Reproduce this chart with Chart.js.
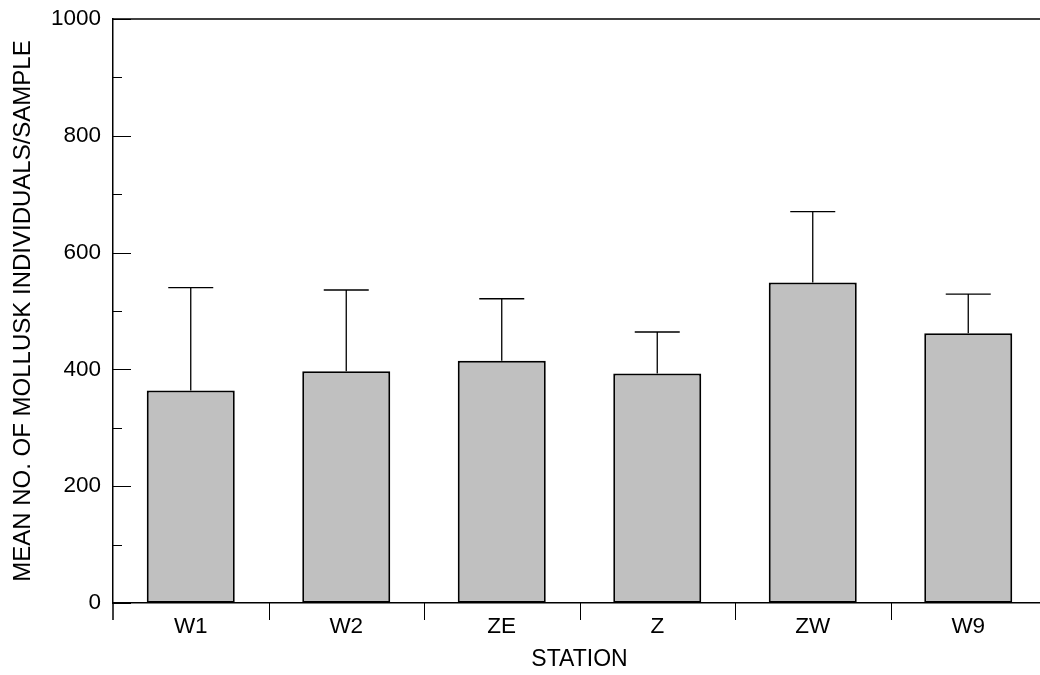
<!DOCTYPE html>
<html>
<head>
<meta charset="utf-8">
<script src="https://cdn.jsdelivr.net/npm/chart.js@4.4.1/dist/chart.umd.min.js"></script>
<style>
  html, body { margin: 0; padding: 0; background: #fff; overflow: hidden; }
  #wrap { width: 1046px; height: 675px; position: relative; }
</style>
</head>
<body>
<div id="wrap"><canvas id="myChart"></canvas></div>
<script>
// stations along the x axis
var stations = ['W1', 'W2', 'ZE', 'Z', 'ZW', 'W9'];
// mean no. of individuals per sample
var meanCount = [364, 397, 415, 393, 549, 462];
// top of the error bar (mean + SD)
var errTop = [540, 536, 521, 464, 670, 529];
// y axis
var yMin = 0, yMax = 1000, yLabelStep = 200, yMinorStep = 100;

var fontFam = '"Liberation Sans", Arial, Helvetica, sans-serif';
Chart.defaults.color = '#000';
Chart.defaults.font.family = fontFam;

// draws frame top line, tick marks (inside on y, below on x) and error bars
const framePlugin = {
    id: 'framePlugin',
    afterDatasetsDraw(chart) {
        const ctx = chart.ctx;
        const area = chart.chartArea;
        const xs = chart.scales.x;
        const ys = chart.scales.y;
        ctx.save();
        ctx.strokeStyle = '#000';

        // error bars
        ctx.lineWidth = 1.3;
        const meta = chart.getDatasetMeta(0);
        meta.data.forEach(function (bar, i) {
            const yErr = ys.getPixelForValue(errTop[i]);
            ctx.beginPath();
            ctx.moveTo(bar.x, bar.y);
            ctx.lineTo(bar.x, yErr);
            ctx.moveTo(bar.x - 22.5, yErr);
            ctx.lineTo(bar.x + 22.5, yErr);
            ctx.stroke();
        });

        // top frame line
        ctx.lineWidth = 1.5;
        ctx.beginPath();
        ctx.moveTo(area.left, area.top);
        ctx.lineTo(area.right, area.top);
        ctx.stroke();

        // y ticks, pointing into the plot
        ctx.lineWidth = 1;
        for (let v = yMin; v <= yMax; v += yMinorStep) {
            const py = Math.round(ys.getPixelForValue(v)) + 0.5;
            const len = (v % yLabelStep === 0) ? 18 : 9;
            ctx.beginPath();
            ctx.moveTo(area.left, py);
            ctx.lineTo(area.left + len, py);
            ctx.stroke();
        }

        // x ticks at category boundaries, below the axis
        for (let i = 0; i <= stations.length; i++) {
            let px = (i === 0) ? area.left : Math.round((xs.getPixelForValue(i - 1) + xs.getPixelForValue(i)) / 2) + 0.5;
            if (i === stations.length) px = area.right;
            ctx.lineWidth = (i === 0) ? 1.5 : 1;
            ctx.beginPath();
            ctx.moveTo(px, area.bottom);
            ctx.lineTo(px, area.bottom + 17);
            ctx.stroke();
        }
        ctx.restore();
    }
};

new Chart(document.getElementById('myChart'), {
    type: 'bar',
    data: {
        labels: stations,
        datasets: [{
            data: meanCount,
            backgroundColor: '#c0c0c0',
            borderColor: '#000',
            borderWidth: 2,
            borderSkipped: false,
            barPercentage: 0.566,
            categoryPercentage: 1
        }]
    },
    options: {
        responsive: true,
        maintainAspectRatio: false,
        animation: false,
        layout: { padding: { top: 19, left: 0, right: 0, bottom: 0 } },
        plugins: {
            legend: { display: false },
            tooltip: { enabled: false }
        },
        scales: {
            x: {
                offset: true,
                grid: { display: false, drawTicks: false },
                border: { display: true, color: '#000', width: 1.5 },
                ticks: { padding: 10, font: { size: 22.5 }, color: '#000' },
                title: { display: true, text: 'STATION', font: { size: 23 }, color: '#000', padding: { top: 0, bottom: 2 } },
                afterFit: function (s) { s.height = 72; s.paddingLeft = 0; s.paddingRight = 0; }
            },
            y: {
                min: yMin,
                max: yMax,
                grid: { display: false, drawTicks: false },
                border: { display: true, color: '#000', width: 1.5 },
                ticks: {
                    stepSize: yLabelStep, padding: 12, font: { size: 22.5 }, color: '#000',
                    callback: function (v) { return String(v); }
                },
                title: { display: true, text: 'MEAN NO. OF MOLLUSK INDIVIDUALS/SAMPLE', font: { size: 24 }, color: '#000', padding: { top: 9, bottom: 0 } },
                afterFit: function (s) { s.width = 113; s.paddingTop = 0; s.paddingBottom = 0; }
            }
        }
    },
    plugins: [framePlugin]
});
</script>
</body>
</html>
